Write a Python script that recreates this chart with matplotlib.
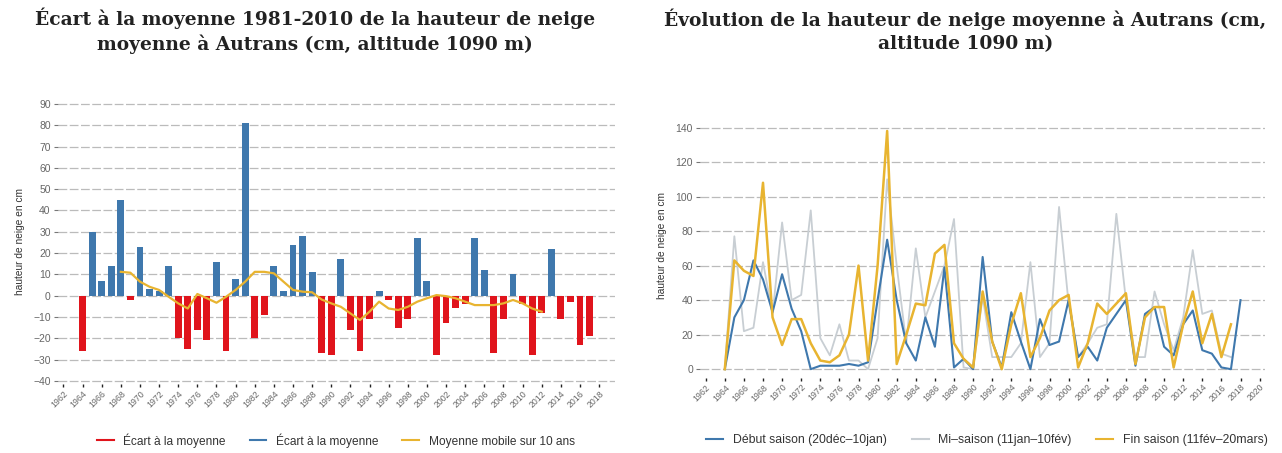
import matplotlib
matplotlib.use('Agg')
import matplotlib.pyplot as plt
from matplotlib.lines import Line2D
import numpy as np

# Ecart a la moyenne 1981-2010, une barre par saison (1964 -> 2017)
ecart_years = list(range(1964, 2018))
ecart = [-26, 30, 7, 14, 45, -2, 23, 3, 2, 14,
         -20, -25, -16, -21, 16, -26, 8, 81, -20, -9,
         14, 2, 24, 28, 11, -27, -28, 17, -16, -26,
         -11, 2, -2, -15, -11, 27, 7, -28, -13, -6,
         -4, 27, 12, -27, -11, 10, -4, -28, -8, 22,
         -11, -3, -23, -19]

# moyenne mobile sur 10 ans (1968 -> 2012)
mm_years = list(range(1968, 2013))
mm = [11.2, 10.8, 6.6, 4.2, 2.7, -0.5, -3.6, -6.0, 0.8, -1.2,
      -3.3, -0.5, 2.7, 6.6, 11.2, 11.2, 10.5, 6.6, 2.7, 1.9,
      1.6, -1.8, -3.6, -5.2, -8.3, -11.4, -7.5, -2.8, -6.0, -6.7,
      -5.2, -2.8, -1.2, 0.3, -0.2, -1.2, -2.8, -4.4, -4.4, -4.4,
      -3.6, -2.0, -3.6, -6.0, -7.5]

# hauteur de neige moyenne par periode
saison_years = list(range(1964, 2019))
debut = [0, 30, 40, 63, 52, 33, 55, 35, 22, 0,
         2, 2, 2, 3, 2, 4, 40, 75, 40, 15,
         5, 30, 13, 59, 1, 6, 0, 65, 16, 1,
         33, 16, 0, 29, 14, 16, 40, 7, 13, 5,
         24, 32, 40, 2, 32, 36, 13, 8, 26, 34,
         11, 9, 1, 0, 40]
mi = [0, 77, 22, 24, 62, 32, 85, 40, 43, 92,
      18, 8, 26, 5, 5, 0, 18, 110, 60, 15,
      70, 30, 45, 60, 87, 1, 0, 42, 7, 7,
      7, 15, 62, 7, 15, 94, 38, 7, 15, 24,
      26, 90, 40, 7, 7, 45, 26, 11, 30, 69,
      32, 34, 9, 7]
fin = [0, 63, 57, 54, 108, 30, 14, 29, 29, 15,
       5, 4, 8, 20, 60, 5, 60, 138, 3, 20,
       38, 37, 67, 72, 15, 6, 1, 45, 16, 0,
       26, 44, 7, 18, 34, 40, 43, 1, 15, 38,
       32, 38, 44, 3, 30, 36, 36, 1, 26, 45,
       15, 32, 7, 26]

RED = '#e0141c'
BLUE = '#3f78ad'
ORANGE = '#e8b430'
GREY_LINE = '#c8ced3'
TXT = '#666666'

plt.rcParams['font.family'] = ['Liberation Sans', 'DejaVu Sans']

fig = plt.figure(figsize=(12.82, 4.53), dpi=100)
ax1 = fig.add_axes([0.045, 0.152, 0.435, 0.628])
ax2 = fig.add_axes([0.546, 0.166, 0.441, 0.583])


def style_axis(ax, yticks):
    for s in ax.spines.values():
        s.set_visible(False)
    ax.set_yticks(yticks)
    ax.yaxis.grid(True, color='#bbbbbb', linestyle=(0, (7, 2)), linewidth=0.9)
    ax.set_axisbelow(True)
    ax.tick_params(axis='y', length=3, width=0.8, color='#777777', labelsize=7.5,
                   labelcolor=TXT, pad=2)
    ax.tick_params(axis='x', length=2.5, width=1, color='#222222', labelsize=6.3,
                   labelcolor=TXT, pad=1)
    ax.set_ylabel('hauteur de neige en cm', fontsize=7.3, color='#333333', labelpad=6)


# --- graphique de gauche : ecarts ---
ecart = np.array(ecart)
colors = [RED if v < 0 else BLUE for v in ecart]
ax1.bar(ecart_years, ecart, width=0.72, color=colors, zorder=2)
ax1.plot(mm_years, mm, color=ORANGE, linewidth=1.6, zorder=3)
style_axis(ax1, range(-40, 91, 10))
ax1.set_ylim(-41.5, 92)
ax1.set_xlim(1961.4, 2019.7)
ax1.set_xticks(range(1962, 2019, 2))
ax1.set_xticklabels([str(y) for y in range(1962, 2019, 2)], rotation=45, ha='right',
                    rotation_mode='anchor')

leg1 = [Line2D([0], [0], color=RED, lw=1.5),
        Line2D([0], [0], color=BLUE, lw=1.5),
        Line2D([0], [0], color=ORANGE, lw=1.5)]
fig.legend(leg1, ['Écart à la moyenne', 'Écart à la moyenne', 'Moyenne mobile sur 10 ans'],
           loc='center', bbox_to_anchor=(0.262, 0.028), ncol=3, frameon=False,
           fontsize=8.6, handlelength=1.4, columnspacing=2.0, handletextpad=0.8,
           labelcolor='#333333')

# --- graphique de droite : hauteur par periode ---
ax2.plot(saison_years, debut, color=BLUE, linewidth=1.5, zorder=3)
ax2.plot(saison_years[:len(mi)], mi, color=GREY_LINE, linewidth=1.3, zorder=2)
ax2.plot(saison_years[:len(fin)], fin, color=ORANGE, linewidth=1.8, zorder=4)
style_axis(ax2, range(0, 141, 20))
ax2.set_ylim(-5, 148)
ax2.set_xlim(1961.4, 2020.6)
ax2.set_xticks(range(1962, 2021, 2))
ax2.set_xticklabels([str(y) for y in range(1962, 2021, 2)], rotation=45, ha='right',
                    rotation_mode='anchor')

leg2 = [Line2D([0], [0], color=BLUE, lw=1.5),
        Line2D([0], [0], color=GREY_LINE, lw=1.5),
        Line2D([0], [0], color=ORANGE, lw=1.5)]
fig.legend(leg2, ['Début saison (20déc–10jan)', 'Mi–saison (11jan–10fév)',
                  'Fin saison (11fév–20mars)'],
           loc='center', bbox_to_anchor=(0.77, 0.028), ncol=3, frameon=False,
           fontsize=8.8, handlelength=1.4, columnspacing=2.0, handletextpad=0.8,
           labelcolor='#333333')

# titres
title_kw = dict(fontsize=13.4, fontweight='bold', family='DejaVu Serif',
                color='#222222', ha='center', va='center', linespacing=1.35)
fig.text(0.246, 0.932, 'Écart à la moyenne 1981-2010 de la hauteur de neige\n'
         'moyenne à Autrans (cm, altitude 1090 m)', **title_kw)
fig.text(0.753, 0.932, 'Évolution de la hauteur de neige moyenne à Autrans (cm,\n'
         'altitude 1090 m)', **title_kw)

fig.savefig('out.png', dpi=100, facecolor='white')
